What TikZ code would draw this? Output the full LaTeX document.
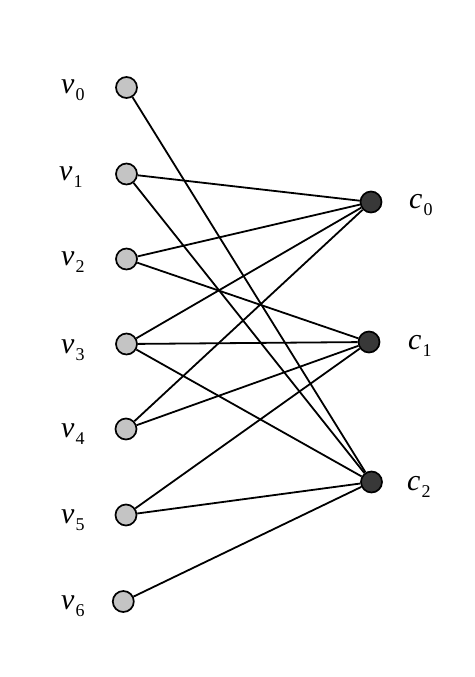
\documentclass[tikz,border=0pt]{standalone}
\usepackage{fontspec}
\setmainfont{Liberation Serif}
\tikzset{
  vnode/.style={circle,draw=black,line width=1.7pt,fill=vfill,minimum size=21pt,inner sep=0pt},
  cnode/.style={circle,draw=black,line width=1.7pt,fill=cfill,minimum size=21pt,inner sep=0pt},
  edge/.style={line width=1.8pt},
  lab/.style={anchor=base west,inner sep=0pt}
}
\definecolor{vfill}{HTML}{C4C4C4}
\definecolor{cfill}{HTML}{383838}
\newcommand{\lbl}[2]{{\fontsize{30}{30}\selectfont\itshape #1}\kern1pt\raisebox{-7pt}{\fontsize{18}{18}\selectfont #2}}
\begin{document}
\begin{tikzpicture}[x=1pt,y=-1pt]
\useasboundingbox (0,0) rectangle (474,677);
\node[vnode] (v0) at (126.5,87.5) {};
\node[vnode] (v1) at (126.5,174) {};
\node[vnode] (v2) at (126.5,259) {};
\node[vnode] (v3) at (126.5,344) {};
\node[vnode] (v4) at (126,429) {};
\node[vnode] (v5) at (126,515) {};
\node[vnode] (v6) at (123.3,601.5) {};
\node[cnode] (c0) at (371,202) {};
\node[cnode] (c1) at (369,342) {};
\node[cnode] (c2) at (371.5,482) {};
\foreach \a/\b in {v0/c2,v1/c0,v1/c2,v2/c0,v2/c1,v3/c0,v3/c1,v3/c2,v4/c0,v4/c1,v5/c1,v5/c2,v6/c2}
  \draw[edge] (\a) -- (\b);
\node[lab] (lv0) at (61,93) {\lbl{v}{0}};
\node[lab] (lv1) at (59,180) {\lbl{v}{1}};
\node[lab] (lv2) at (61,265) {\lbl{v}{2}};
\node[lab] (lv3) at (61,353) {\lbl{v}{3}};
\node[lab] (lv4) at (61,437) {\lbl{v}{4}};
\node[lab] (lv5) at (61,523) {\lbl{v}{5}};
\node[lab] (lv6) at (61,609) {\lbl{v}{6}};
\node[lab] (lc0) at (409,208) {\lbl{c}{0}};
\node[lab] (lc1) at (408,349) {\lbl{c}{1}};
\node[lab] (lc2) at (407,490) {\lbl{c}{2}};
\end{tikzpicture}
\end{document}
